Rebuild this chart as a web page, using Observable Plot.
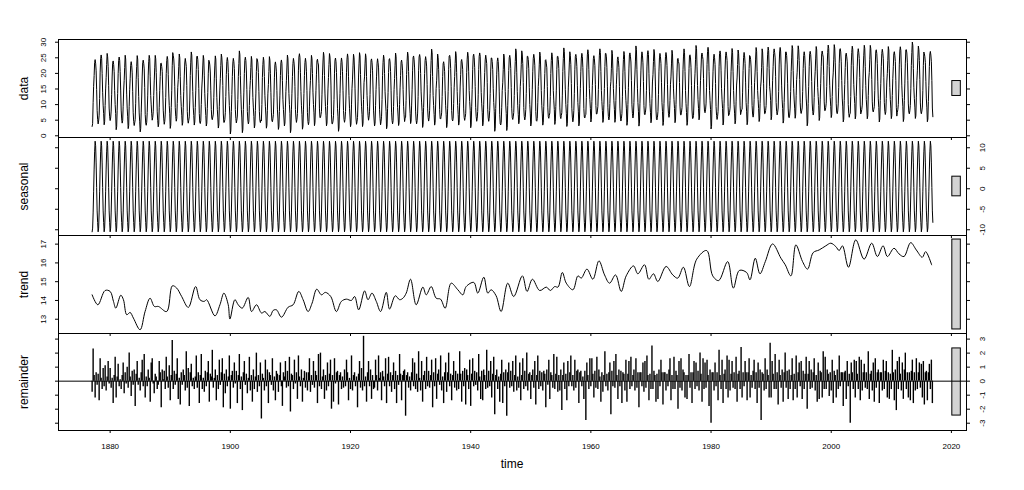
<!DOCTYPE html>
<html><head><meta charset="utf-8">
<script src="https://cdn.jsdelivr.net/npm/d3@7"></script>
<script src="https://cdn.jsdelivr.net/npm/@observablehq/plot@0.6"></script>
<style>
body{margin:0;background:#fff;font-family:"Liberation Sans",Arial,sans-serif;}
#chart{position:relative;width:1024px;height:490px;overflow:hidden;background:#fff;}
#chart svg{position:absolute;left:0;overflow:visible;background:transparent;max-width:none;}
#xlab{position:absolute;left:0;width:1024px;text-align:center;top:457px;font-size:12px;line-height:14px;color:#000;}
</style></head><body><div id="chart"><div id="xlab">time</div></div>
<script>
// ---------- data ----------
const startYear = 1877;
const nYears = 140;
const seasonalPattern = [-10.5, -9.6, -5.9, -0.6, 4.8, 9.0, 11.6, 10.5, 6.3, 0.3, -5.4, -8.2];

const trendTime = [1877.0,1877.95,1879.16,1880.0,1880.55,1880.94,1881.77,1882.21,1882.76,1883.32,1883.87,1884.98,1885.81,1886.64,1887.36,1888.03,1889.41,1890.35,1891.07,1891.9,1893.01,1894.22,1894.94,1895.66,1896.05,1897.44,1898.27,1898.93,1899.65,1899.93,1900.76,1901.31,1901.98,1902.97,1903.53,1904.36,1905.19,1905.75,1906.58,1907.13,1907.68,1908.51,1909.62,1910.45,1911.39,1912.11,1912.94,1913.61,1914.38,1915.16,1915.82,1916.71,1917.65,1918.48,1919.31,1920.14,1920.69,1921.36,1922.35,1922.91,1923.57,1924.29,1925.01,1925.95,1926.5,1927.45,1928.17,1928.72,1929.27,1929.99,1930.93,1932.04,1932.6,1933.43,1934.26,1934.98,1935.75,1936.75,1937.86,1938.69,1939.25,1940.52,1941.18,1942.18,1942.85,1943.4,1944.23,1945.06,1946.17,1947.16,1948.6,1949.38,1950.27,1951.48,1952.59,1953.26,1953.98,1954.53,1955.25,1955.91,1957.02,1957.85,1958.4,1959.35,1960.34,1961.34,1962.28,1963.11,1964.11,1965.05,1965.88,1967.1,1967.82,1968.93,1969.65,1970.42,1971.14,1972.52,1973.63,1974.46,1975.4,1976.4,1977.62,1979.28,1980.28,1981.27,1982.77,1983.71,1984.71,1985.92,1986.48,1987.36,1988.14,1989.03,1990.24,1991.63,1992.35,1993.29,1994.12,1995.23,1996.06,1997.0,1997.99,1999.1,1999.93,2000.76,2001.32,2001.87,2002.87,2004.09,2005.47,2006.74,2007.68,2008.63,2009.35,2010.45,2011.28,2012.11,2013.22,2014.16,2015.16,2015.71,2016.71];
const trendValue = [14.30,13.77,14.53,14.48,13.95,13.59,14.28,14.04,13.24,13.36,13.06,12.44,13.41,14.12,13.68,13.68,13.41,14.78,14.66,14.21,13.63,14.74,14.04,13.95,14.04,13.18,13.77,14.39,13.77,13.01,14.04,13.77,13.59,14.16,13.41,13.77,13.33,13.41,13.15,13.47,13.50,13.11,13.64,13.77,14.48,14.04,13.41,13.86,14.60,14.30,14.43,14.21,13.41,13.95,14.07,14.00,14.21,13.50,14.51,14.04,14.39,13.95,13.41,14.43,13.54,14.25,14.04,14.12,14.39,15.13,13.77,14.71,14.30,14.74,14.12,14.07,13.59,14.92,14.57,14.30,14.74,14.96,14.39,15.24,14.39,14.57,14.25,13.41,14.92,14.21,15.31,14.48,15.13,14.53,14.71,14.53,14.74,14.71,15.49,14.92,14.57,15.31,15.19,15.67,15.13,16.11,15.36,14.92,15.36,14.48,15.31,15.84,15.42,15.90,15.13,15.42,15.01,15.81,15.36,15.19,15.77,14.74,16.20,16.66,15.31,15.06,16.07,14.66,15.60,15.49,15.10,16.25,15.42,16.07,17.01,16.25,15.90,15.31,16.96,16.07,15.67,16.55,16.69,16.91,17.05,16.87,16.66,16.91,15.77,17.23,16.20,17.05,16.34,16.91,16.34,16.78,16.48,16.34,17.08,16.69,16.30,16.60,15.90];

// remainder: six values per year (two-month steps), 1877..2016
const remainderRows = [
[-0.8,2.3,0.4,-1.2,0.6,-0.3],[0.5,-1.4,1.6,0.2,-0.6,0.9],[-0.4,1.1,-0.7,0.3,1.4,-0.2],[0.9,-0.5,0.2,-1.6,0.4,1.7],
[-1.2,0.3,1.2,-0.4,0.1,-0.6],[0.4,1.3,-0.9,0.6,-0.2,1.0],[-0.5,2.0,0.3,-1.1,0.7,-0.3],[0.8,-1.8,0.5,1.4,-0.3,0.2],
[-0.7,0.6,1.5,-0.4,1.9,-1.2],[0.3,-0.4,0.8,0.2,-1.5,1.3],[1.6,-0.2,-0.9,0.5,0.3,-0.6],[-0.3,1.4,0.6,-1.9,0.8,0.1],
[0.7,-0.6,1.7,0.3,-0.5,1.1],[-1.4,0.4,2.9,-0.6,0.7,-0.3],[0.5,1.6,-1.3,0.2,-1.7,0.6],[-0.3,0.8,0.4,-0.7,2.1,-0.5],
[0.9,-1.8,0.6,1.2,-0.4,0.2],[-0.6,0.3,1.8,-0.5,0.6,-1.6],[0.4,1.9,-0.6,0.2,-0.8,0.7],[-0.4,0.6,1.4,-1.5,0.5,0.3],
[2.2,-0.5,0.2,0.8,-1.4,0.4],[-0.6,1.5,-0.3,0.6,1.6,-1.9],[0.5,-0.9,0.8,-0.4,0.3,1.8],[-2.0,0.4,0.7,-0.5,1.3,-0.2],
[0.7,-1.6,0.4,1.9,-0.6,0.3],[-2.1,0.6,1.4,-0.3,0.5,-0.9],[0.2,1.7,-0.7,0.4,-1.5,0.8],[-0.6,0.3,2.0,-0.8,0.4,-0.4],
[1.3,-2.7,0.5,0.2,-0.7,1.5],[-0.4,0.8,-1.6,0.6,0.4,-0.3],[1.6,-0.7,0.3,-1.4,0.7,0.5],[-0.8,0.4,1.3,-0.4,-1.8,0.6],
[0.3,1.4,-0.5,0.7,-0.4,1.7],[-2.2,0.5,0.4,-0.6,1.5,-0.2],[0.6,-1.3,1.8,0.3,-0.4,0.8],[-1.5,0.2,0.7,-0.5,0.6,-0.7],
[0.6,1.6,-0.8,0.4,-0.3,1.4],[-0.5,0.7,0.4,-1.6,1.9,-0.4],[2.0,-0.6,0.3,0.8,-1.3,0.4],[-0.7,1.3,-0.4,0.5,1.5,-2.0],
[0.4,-1.5,1.6,-0.2,0.6,0.7],[-1.7,0.4,0.6,-0.6,0.3,-0.5],[0.8,-0.4,1.5,0.6,-1.4,0.2],[-0.6,1.8,-0.7,0.4,0.6,-0.4],
[0.3,-1.9,0.5,1.4,-0.5,0.9],[-0.7,3.2,-0.4,0.3,-1.5,0.6],[1.4,-0.4,0.8,-1.3,0.4,-0.6],[-0.5,1.5,0.4,-0.7,1.8,0.2],
[0.6,-1.4,0.7,0.3,-0.4,1.6],[-1.6,0.5,1.7,-0.4,0.6,-0.8],[0.4,1.3,-0.6,0.7,-1.6,0.4],[-0.3,1.9,0.5,-1.4,0.4,0.7],
[0.8,-2.5,0.4,0.6,-0.5,0.3],[-0.7,0.6,1.6,-0.4,1.3,-0.6],[0.5,-0.8,2.1,0.2,-0.7,1.4],[-1.5,0.4,0.7,-0.6,1.7,-0.4],
[0.7,-0.5,0.4,1.5,-1.9,0.6],[-0.4,1.6,-1.3,0.5,0.8,-0.3],[1.8,-0.7,0.3,-1.6,0.6,1.3],[-0.8,0.6,2.0,-0.4,0.5,-1.4],
[0.4,1.4,-0.5,0.7,-0.7,0.5],[-0.6,2.1,0.5,-1.5,0.7,-0.4],[0.9,-1.7,0.8,0.4,-0.6,1.5],[-1.8,0.5,1.6,-0.4,0.7,-0.3],
[0.6,-0.7,1.9,0.3,-1.3,0.7],[-1.4,0.8,0.4,-0.6,2.2,-0.5],[0.7,-0.4,1.4,-1.2,0.5,1.7],[-2.4,0.4,0.8,-0.6,0.3,-1.5],
[0.5,1.5,-1.6,0.6,-0.4,0.8],[-2.5,0.6,1.3,-0.5,0.7,-0.4],[1.4,-0.8,0.4,1.8,-0.7,0.3],[-0.5,1.3,-1.4,0.4,1.6,-0.6],
[0.7,-0.4,2.0,-0.7,0.5,0.6],[-1.3,0.4,0.8,-0.5,1.4,-1.7],[0.4,1.8,-0.6,0.7,-0.4,0.6],[-0.7,0.7,0.5,-1.9,0.8,-0.3],
[1.5,-1.3,0.6,0.4,-0.5,1.9],[-0.6,0.5,1.7,-0.8,0.4,-0.7],[0.8,-2.1,0.4,1.3,-0.6,0.5],[-1.4,1.4,-0.4,0.6,1.8,-0.4],
[0.4,-0.7,1.5,-0.5,0.7,0.8],[-1.6,0.6,0.7,-0.4,0.3,-1.3],[0.7,-2.8,1.3,0.4,-0.6,1.6],[-0.4,1.6,0.5,-1.2,0.7,-0.5],
[1.7,-0.6,0.8,0.3,-1.5,0.6],[-0.8,0.4,2.1,-0.4,0.5,-0.7],[0.6,1.3,-2.4,0.7,-0.4,1.4],[-0.5,1.9,0.4,-1.3,0.8,-0.4],
[0.7,-1.6,0.6,0.5,-0.7,1.5],[-1.5,0.5,1.4,-0.6,1.7,-0.4],[0.4,0.8,-0.7,1.6,-0.5,0.6],[-1.9,0.6,0.6,-0.4,1.3,-0.8],
[1.4,-0.5,1.8,0.4,-1.4,0.5],[-0.6,2.5,-0.6,0.7,0.4,-1.5],[0.5,-1.3,0.8,-0.4,1.5,0.6],[-1.7,0.6,0.6,-0.7,0.5,-0.4],
[0.8,1.6,-1.4,0.4,-0.6,1.7],[-0.6,0.7,0.4,-2.0,1.4,-0.5],[1.6,-0.7,0.8,0.6,-1.2,0.4],[-1.3,0.4,1.9,-0.5,0.6,-1.6],
[0.6,1.4,-0.6,1.3,-0.4,0.7],[-0.7,2.0,0.5,-1.5,1.6,-0.6],[1.3,-0.5,1.5,0.4,-1.8,0.8],[-3.0,0.6,0.6,-0.7,1.3,-0.4],
[0.6,-1.4,2.2,0.4,-0.6,1.5],[-1.6,0.5,0.8,-0.6,1.8,-1.2],[1.5,-0.7,0.5,1.4,-0.5,0.6],[-0.6,1.7,-1.5,0.5,0.7,-0.6],
[2.4,-1.2,0.6,-0.4,1.4,0.6],[-1.4,0.6,1.6,-1.2,0.4,-0.5],[0.7,1.5,-0.6,0.6,-1.6,1.3],[-0.5,0.8,-2.8,0.6,0.5,-0.7],
[1.6,-0.6,0.8,0.4,-1.2,2.7],[-1.2,1.4,0.5,-0.6,1.9,-0.6],[0.6,-1.7,1.5,0.4,-0.5,0.8],[-1.5,0.6,2.0,-0.5,0.7,-1.3],
[0.8,-0.6,0.4,1.6,-1.4,0.5],[-0.6,1.8,-1.2,0.6,1.3,-0.4],[1.4,-1.3,0.7,-0.6,0.5,1.7],[-2.0,0.5,1.4,-0.6,0.8,-0.5],
[0.6,1.6,-0.7,0.4,-1.5,1.3],[-1.3,0.7,0.6,-1.2,2.1,-0.6],[1.7,-0.6,0.8,0.5,-1.1,0.6],[-0.7,1.5,-1.6,0.7,0.4,-1.2],
[0.8,-0.6,1.8,-0.4,0.6,0.6],[-1.8,0.6,0.7,-1.3,1.4,-0.4],[0.5,-3.0,1.3,0.6,-0.6,1.5],[-1.2,1.4,0.5,-0.6,1.7,-1.4],
[1.5,-0.7,0.6,1.2,-0.5,0.6],[-0.6,2.1,-1.3,0.5,0.7,-0.7],[1.3,-1.5,1.6,-0.5,0.6,0.8],[-1.6,0.6,0.6,-0.7,1.5,-0.6],
[0.7,1.4,-1.2,0.6,-1.3,0.5],[-0.6,2.2,0.6,-1.4,0.8,-2.1],[1.4,-0.6,1.7,0.5,-0.7,1.3],[-1.3,0.8,2.0,-0.6,0.6,-1.2],
[0.6,-1.4,0.7,1.5,-1.6,0.6],[-0.7,1.6,-0.6,0.6,1.3,-0.5],[1.2,-1.2,1.4,-1.7,0.6,0.7],[-1.4,0.6,1.2,-0.6,1.5,-1.6]
];

const xTicks = [1880, 1900, 1920, 1940, 1960, 1980, 2000, 2020];
const dataTicks = [0, 5, 10, 15, 20, 25, 30];
const seasonalTicks = [-10, -5, 0, 5, 10];
const trendTicks = [13, 14, 15, 16, 17];
const remainderTicks = [-3, -2, -1, 0, 1, 2, 3];
const panelNames = ["data", "seasonal", "trend", "remainder"];

// ---------- derived series ----------
const remainder = remainderRows.flatMap((row, i) => row.map((v, k) => ({t: startYear + i + (2 * k) / 12, v})));
const trendPts = trendTime.map((t, i) => ({t, v: trendValue[i]}));
function trendAt(t) {
  const i = d3.bisectRight(trendTime, t);
  if (i <= 0) return trendValue[0];
  if (i >= trendTime.length) return trendValue[trendTime.length - 1];
  const t0 = trendTime[i - 1], t1 = trendTime[i];
  return trendValue[i - 1] + (trendValue[i] - trendValue[i - 1]) * (t - t0) / (t1 - t0);
}
const months = d3.range(nYears * 12);
const seasonal = months.map(m => ({t: startYear + m / 12, v: seasonalPattern[m % 12]}));
const series = months.map(m => ({
  t: startYear + m / 12,
  v: seasonalPattern[m % 12] + trendAt(startYear + m / 12) + remainder[Math.floor(m / 2)].v
}));

// x extent as R: data range + 4%
const tEnd = startYear + (nYears * 12 - 1) / 12;
const tPad = (tEnd - startYear) * 0.04;
const xDomain = [startYear - tPad, tEnd + tPad];

// ---------- layout ----------
const W = 1024, ML = 58, MR = 58;
const tops = [39, 137, 235, 333, 430];
const panels = [
  {name: panelNames[0], rows: series, kind: "line", domain: [-0.55, 30.87], ticks: dataTicks, side: "left"},
  {name: panelNames[1], rows: seasonal, kind: "line", domain: [-11.4, 12.5], ticks: seasonalTicks, side: "right"},
  {name: panelNames[2], rows: trendPts, kind: "curve", domain: [12.24, 17.46], ticks: trendTicks, side: "left"},
  {name: panelNames[3], rows: remainder, kind: "h", domain: [-3.52, 3.4], ticks: remainderTicks, side: "right"}
];
// range bar height: smallest range among components (R plot.stl)
const barH = d3.min(panels, p => d3.max(p.rows, d => d.v) - d3.min(p.rows, d => d.v));
const dxBar = (xDomain[1] - xDomain[0]) / 64;
const barX1 = xDomain[1] - dxBar, barX2 = xDomain[1] - 0.4 * dxBar;

const chart = document.getElementById("chart");
panels.forEach((p, i) => {
  const h = tops[i + 1] - tops[i];
  const last = i === panels.length - 1;
  const mid = (p.domain[0] + p.domain[1]) / 2;
  const marks = [
    Plot.rect([0], {x1: barX1, x2: barX2, y1: mid - barH / 2, y2: mid + barH / 2, fill: "#d3d3d3", stroke: "black", strokeWidth: 1})
  ];
  if (p.kind === "line") marks.push(Plot.line(p.rows, {x: "t", y: "v", stroke: "black", strokeWidth: 1}));
  if (p.kind === "curve") marks.push(Plot.line(p.rows, {x: "t", y: "v", stroke: "black", strokeWidth: 1, curve: "catmull-rom"}));
  if (p.kind === "h") {
    marks.push(Plot.ruleX(p.rows, {x: "t", y1: 0, y2: "v", stroke: "black", strokeWidth: 1.4}));
    marks.push(Plot.ruleY([0], {stroke: "black", strokeWidth: 1}));
  }
  marks.push(
    Plot.frame({stroke: "black", strokeWidth: 1}),
    Plot.axisY({anchor: "left", ticks: p.ticks, tickSize: 3, fill: "none", label: null}),
    Plot.axisY({anchor: "right", ticks: p.ticks, tickSize: 3, fill: "none", label: null}),
    Plot.axisX({anchor: "bottom", ticks: xTicks, tickSize: 3, tickPadding: 10, fill: last ? "black" : "none",
                tickFormat: d => String(d), label: null, fontSize: 8}),
    Plot.text(p.ticks, {y: d => d, text: d => String(d), frameAnchor: p.side, dx: p.side === "left" ? -15 : 16,
                rotate: -90, textAnchor: "middle", lineAnchor: "middle", fontSize: 8, fill: "black"}),
    Plot.text([p.name], {text: d => d, frameAnchor: "left", dx: -34, rotate: -90, textAnchor: "middle",
                lineAnchor: "middle", fontSize: 12, fill: "black"})
  );
  const svg = Plot.plot({
    width: W,
    height: h + (last ? 40 : 0),
    marginLeft: ML, marginRight: MR, marginTop: 0, marginBottom: last ? 40 : 0,
    x: {domain: xDomain},
    y: {domain: p.domain},
    style: {fontFamily: "'Liberation Sans', Arial, sans-serif", fontSize: "8px", overflow: "visible", background: "transparent", color: "black"},
    marks
  });
  svg.style.top = tops[i] + "px";
  chart.appendChild(svg);
});
</script>
</body></html>
